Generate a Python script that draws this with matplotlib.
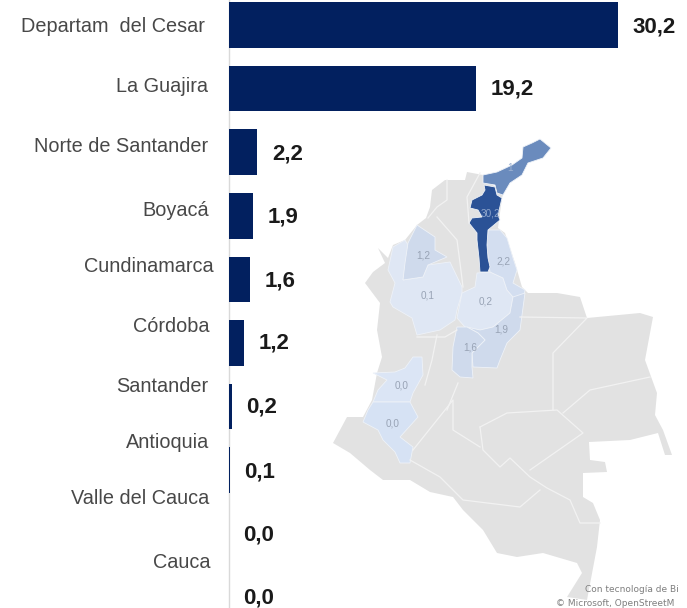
import matplotlib
matplotlib.use("Agg")
import matplotlib.pyplot as plt
from matplotlib.patches import Polygon

plt.rcParams['font.family'] = ['Liberation Sans', 'DejaVu Sans']

# Bar data
departments = ["Departam  del Cesar", "La Guajira", "Norte de Santander", "Boyacá", "Cundinamarca",
               "Córdoba", "Santander", "Antioquia", "Valle del Cauca", "Cauca"]
values = [30.2, 19.2, 2.2, 1.9, 1.6, 1.2, 0.2, 0.1, 0.0, 0.0]
value_labels = ["30,2", "19,2", "2,2", "1,9", "1,6", "1,2", "0,2", "0,1", "0,0", "0,0"]

# Map outlines
colombia = [(483,175),(467,172),(465,180),(445,180),(432,190),(430,207),(426,218),(417,225),(405,240),(393,245),
            (388,258),(378,248),(385,263),(373,272),(365,283),(380,303),(377,330),(382,357),(377,373),(372,400),
            (363,417),(347,417),(340,430),(333,443),(350,453),(370,470),(383,480),(410,480),(430,492),(453,497),
            (463,510),(483,530),(497,553),(517,557),(543,553),(577,563),(582,573),(567,597),(587,600),(597,547),
            (600,520),(593,503),(583,497),(583,473),(607,472),(605,462),(590,460),(589,442),(630,440),(658,433),
            (665,455),(672,455),(663,430),(655,415),(657,393),(645,360),(653,317),(640,313),(587,318),(580,297),
            (557,293),(528,293),(522,287),(515,263),(505,233),(498,228),(502,198),(503,195)]
guajira = [(483,175),(497,172),(512,165),(522,158),(523,147),(532,143),(540,139),(551,148),(543,158),(528,163),
           (522,175),(510,183),(503,195),(497,193),(495,185),(483,183)]
cesar = [(484,185),(495,187),(497,195),(502,198),(498,215),(500,220),(488,230),(487,245),(488,258),(490,267),
         (488,272),(480,272),(479,258),(477,240),(477,233),(469,223),(472,218),(482,217),(478,210),(470,208),
         (472,200),(482,195),(485,190)]
cordoba = [(417,225),(435,237),(435,250),(447,257),(428,265),(423,277),(403,280),(405,263),(408,243)]
antioquia = [(405,240),(408,245),(403,280),(423,277),(428,265),(450,262),(462,287),(462,293),(457,310),(455,320),
             (440,330),(417,335),(412,318),(393,307),(390,302),(395,283),(388,270),(393,247)]
santander = [(477,273),(490,272),(503,278),(507,290),(513,297),(510,313),(493,327),(480,330),(465,327),(457,318),
             (462,293),(475,287)]
norte = [(488,230),(500,230),(507,238),(513,258),(517,270),(513,283),(525,290),(523,303),(513,297),(507,290),
         (503,278),(490,272),(488,258),(487,245)]
boyaca = [(525,293),(520,330),(507,343),(500,360),(497,368),(473,367),(472,353),(485,340),(478,333),(467,327),
          (480,330),(493,327),(510,313),(513,297)]
cundinamarca = [(457,327),(467,327),(478,333),(485,340),(472,353),(472,367),(473,378),(460,377),(452,370),(453,347)]
valle = [(422,357),(423,375),(413,393),(410,402),(373,402),(378,390),(387,380),(373,373),(395,372),(405,368),(413,357)]
cauca = [(373,402),(410,402),(418,417),(400,437),(413,447),(410,463),(400,463),(395,452),(383,440),(378,430),
         (363,422),(368,410)]

# White borders between the grey departments
borders = [
    [(447,180),(447,200),(437,207),(428,218)],
    [(437,217),(457,240),(460,263),(463,287)],
    [(480,173),(467,197),(469,223)],
    [(520,317),(587,318),(553,353),(553,410)],
    [(480,427),(507,413),(557,410),(583,433),(530,470)],
    [(563,413),(590,390),(650,377)],
    [(480,427),(483,450),(500,467),(510,458),(530,477),(547,488),(570,500),(580,523),(600,523)],
    [(410,460),(440,477),(463,500),(520,507),(540,490)],
    [(413,450),(453,400),(453,430),(480,447)],
    [(458,383),(447,410)],
    [(437,335),(432,360),(425,385)],
    [(417,337),(445,337),(457,330)],
]

# Value labels on the map
map_labels = [("30,2", 490, 213, "#8fa6cc"), ("1", 510, 168, "#9db2d2"), ("1,2", 423, 255, "#98a3b5"),
              ("2,2", 503, 262, "#98a3b5"), ("0,1", 428, 295, "#98a3b5"), ("0,2", 486, 301, "#98a3b5"),
              ("1,9", 501, 330, "#98a3b5"), ("1,6", 470, 347, "#98a3b5"), ("0,0", 402, 386, "#98a3b5"),
              ("0,0", 393, 423, "#98a3b5")]

# Where the text sits in the picture
label_y = [26, 86, 147, 211, 267, 326, 387, 442, 499, 562]
label_right = [205, 208, 208, 209, 214, 209, 208, 209, 209, 210]
value_x = [632, 491, 272, 268, 265, 259, 246, 244, 243, 243]
value_y = [27, 89, 154, 217, 281, 343, 407, 472, 535, 598]

W, H = 687, 608
fig = plt.figure(figsize=(W / 100, H / 100), dpi=100)

# Map and text use picture coordinates
ax_map = fig.add_axes([0, 0, 1, 1])
ax_map.set_xlim(0, W)
ax_map.set_ylim(H, 0)
ax_map.axis("off")

ax_map.add_patch(Polygon(colombia, closed=True, fc="#e2e2e2", ec="none"))
for line in borders:
    ax_map.plot([p[0] for p in line], [p[1] for p in line], color="#f2f2f2", lw=0.9)
for shape, col in [(antioquia, "#dfe7f4"), (cordoba, "#cfdaec"), (santander, "#dfe7f4"), (norte, "#d3def0"),
                   (boyaca, "#cfdaec"), (cundinamarca, "#cfdaec"), (valle, "#dbe5f5"), (cauca, "#d6e2f4"),
                   (guajira, "#6a8bbd"), (cesar, "#2b5296")]:
    ax_map.add_patch(Polygon(shape, closed=True, fc=col, ec="#eef2f8", lw=0.6))
for txt, x, y, col in map_labels:
    ax_map.text(x, y, txt, color=col, fontsize=7.2, ha="center", va="center")

ax_map.text(679, 590, "Con tecnología de Bi", fontsize=6.5, color="#7f7f7f", ha="right", va="center", family="DejaVu Sans")
ax_map.text(556, 603, "© Microsoft, OpenStreetM", fontsize=6.5, color="#7f7f7f", ha="left", va="center",
            family="DejaVu Sans", clip_on=True)

for name, x, y in zip(departments, label_right, label_y):
    ax_map.text(x, y, name, fontsize=14.3, color="#484848", ha="right", va="center")
for txt, x, y in zip(value_labels, value_x, value_y):
    ax_map.text(x, y, txt, fontsize=16, color="#1a1a1a", fontweight="bold", ha="left", va="center")

# Bars on top, transparent background
ax = fig.add_axes([229 / W, 0, (W - 229) / W, 1])
ax.patch.set_alpha(0)
ax.barh(range(len(values)), values, height=0.72, color="#02205f", zorder=3)
ax.set_xlim(0, (W - 229) / 12.87)
ax.set_ylim((H - 25) / 63.6, -25 / 63.6)
ax.set_xticks([])
ax.set_yticks([])
for s in ["top", "right", "bottom"]:
    ax.spines[s].set_visible(False)
ax.spines["left"].set_color("#d9d9d9")
ax.spines["left"].set_linewidth(1)

fig.savefig("out.png", dpi=100)
